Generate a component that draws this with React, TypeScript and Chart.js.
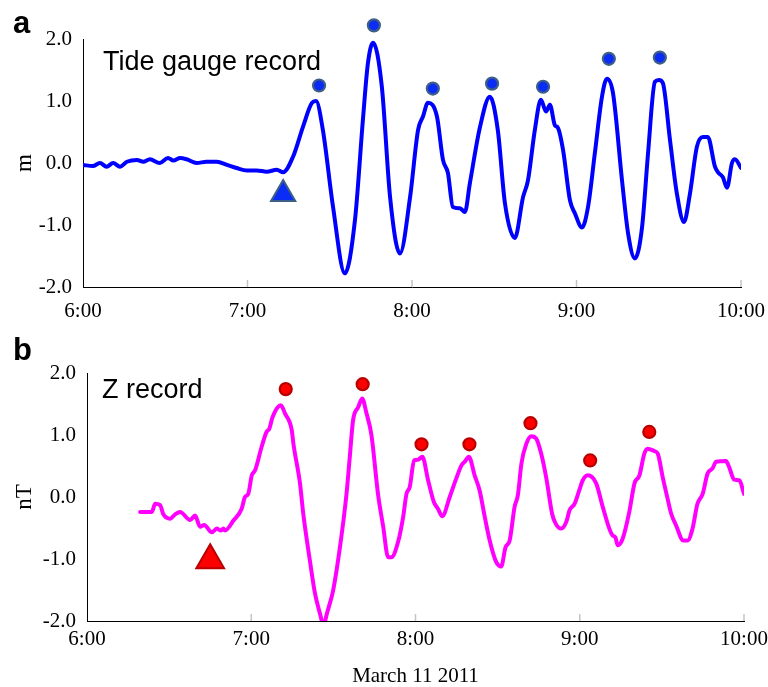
import React, { useEffect, useRef } from 'react';
import { Chart, registerables } from 'chart.js';

Chart.register(...registerables);

// ---- data (minutes after 6:00, March 11 2011) ----
const hourTickLabels = ['6:00', '7:00', '8:00', '9:00', '10:00'];
const valueTickLabels = ['-2.0', '-1.0', '0.0', '1.0', '2.0'];

const tgTime = [0, 3.6, 6.2, 8.6, 11, 13.5, 16, 19.7, 22, 24.4, 28, 31, 33, 35.4, 37.8, 41.5, 45, 48.8, 52.5, 56, 59.8, 63.4, 67, 70.7, 73, 76.6, 80.2, 83.5, 85, 87.5, 91.2, 95.5, 99.2, 102.1, 103.9, 105.8, 109, 112, 115.6, 119.3, 122.2, 124, 125.8, 129.1, 131.3, 133.1, 134.9, 137.5, 139.3, 141.1, 144.8, 148.4, 151.3, 153.9, 157.5, 160.5, 162.3, 164.8, 167, 168.9, 170.3, 172.1, 173.2, 175.1, 177.6, 179.4, 182, 184.2, 186.7, 189.3, 191.1, 193.3, 196.6, 198.8, 201.3, 203.9, 206.1, 208.6, 210.1, 211.5, 214.1, 216.6, 219.2, 221.4, 223.9, 226.1, 227.9, 230.5, 231.6, 233.4, 234.9, 236.7, 237.8, 240];
const tgLevel = [-0.03, -0.05, 0.0, -0.06, 0.0, -0.06, 0.02, 0.05, 0.02, 0.06, 0.0, 0.08, 0.04, 0.08, 0.06, 0.0, 0.02, 0.02, -0.03, -0.08, -0.12, -0.12, -0.14, -0.11, -0.15, 0.1, 0.58, 0.97, 1.0, 0.53, -0.71, -1.78, -0.92, 0.7, 1.6, 1.94, 1.23, -0.55, -1.46, -0.55, 0.53, 0.75, 0.97, 0.75, 0.05, -0.16, -0.71, -0.73, -0.79, -0.33, 0.58, 1.07, 0.53, -0.65, -1.21, -0.55, -0.28, 0.53, 1.02, 0.83, 0.94, 0.61, 0.57, 0.21, -0.6, -0.81, -1.04, -0.71, 0.16, 1.07, 1.36, 1.13, -0.28, -1.13, -1.54, -1.04, 0.16, 1.31, 1.34, 1.29, 0.37, -0.49, -0.95, -0.49, 0.26, 0.42, 0.42, -0.06, -0.15, -0.23, -0.4, 0.0, 0.06, -0.08];

const tgPeakTime = [86.1, 106.1, 127.6, 149.2, 167.8, 191.8, 210.4];
const tgPeakLevel = [1.25, 2.22, 1.2, 1.28, 1.23, 1.68, 1.7];
const tgArrivalTime = [73];
const tgArrivalLevel = [-0.5];

const zTime = [19.4, 23.7, 24.9, 26.7, 27.9, 30.4, 32.2, 34, 37.7, 39.5, 41.3, 42.8, 45.6, 47.4, 48.9, 49.8, 50.4, 53.5, 56.5, 57.7, 58.9, 60.2, 61.4, 63.8, 65.6, 66.6, 67.8, 70.8, 72.3, 74.8, 75.4, 77.8, 79, 81.4, 83.3, 85.7, 86.4, 87.2, 89.9, 92.4, 94.8, 96, 97.2, 99.1, 100.5, 102.1, 103.9, 106.3, 108.2, 110, 111.2, 113.6, 115.5, 116.7, 117.9, 119.5, 120.9, 122.5, 124.6, 126.7, 128.2, 129.8, 132.5, 134.9, 136.8, 138, 139.5, 141.6, 143.4, 145.3, 147.1, 149.5, 151.3, 152.9, 154.4, 156.2, 157.4, 158.7, 160.5, 162.3, 164.1, 165.9, 167.8, 169.9, 171.2, 173.2, 175.1, 176.3, 178.1, 179.9, 181.1, 182.9, 186, 188.4, 190.8, 192, 193, 193.9, 195.7, 198.1, 200, 201.8, 203.6, 204.8, 207.3, 208.5, 210.3, 212.1, 213.4, 215.2, 217.8, 219.4, 221.2, 223, 224.9, 226.7, 228.5, 229.8, 233.4, 234.6, 236.4, 238.3, 240];
const zField = [-0.24, -0.24, -0.11, -0.13, -0.28, -0.35, -0.28, -0.24, -0.37, -0.3, -0.48, -0.45, -0.57, -0.51, -0.54, -0.51, -0.54, -0.38, -0.19, 0.0, 0.05, 0.35, 0.43, 0.81, 1.05, 1.1, 1.29, 1.48, 1.35, 1.08, 0.86, 0.22, -0.27, -1.02, -1.56, -1.99, -2.15, -1.96, -1.51, -0.81, 0.05, 0.65, 1.24, 1.45, 1.59, 1.35, 1.0, 0.05, -0.48, -0.97, -0.97, -0.73, -0.32, 0.05, 0.16, 0.59, 0.6, 0.65, 0.27, -0.08, -0.19, -0.31, 0.0, 0.3, 0.51, 0.57, 0.65, 0.35, 0.11, -0.32, -0.7, -1.05, -1.12, -0.81, -0.7, -0.16, 0.03, 0.54, 0.86, 0.98, 0.94, 0.7, 0.3, -0.27, -0.43, -0.51, -0.4, -0.21, -0.11, 0.12, 0.27, 0.35, 0.22, -0.16, -0.51, -0.62, -0.65, -0.78, -0.67, -0.24, 0.22, 0.35, 0.7, 0.78, 0.74, 0.7, 0.32, -0.03, -0.27, -0.46, -0.7, -0.7, -0.51, -0.11, 0.05, 0.38, 0.46, 0.57, 0.58, 0.48, 0.28, 0.27, 0.05];

const zPeakTime = [72.6, 100.7, 122.2, 139.7, 162, 183.8, 205.4];
const zPeakField = [1.74, 1.82, 0.85, 0.85, 1.19, 0.59, 1.05];
const zArrivalTime = [45];
const zArrivalField = [-1.02];

const toXY = (ts: number[], vs: number[]) => ts.map((t, i) => ({ x: t, y: vs[i] }));

const SERIF = '"Liberation Serif", "Times New Roman", serif';
const SANS = '"Liberation Sans", Arial, Helvetica, sans-serif';

const decorPlugin = {
  id: 'decor',
  beforeDatasetsDraw(chart: any) {
    const ctx = chart.ctx;
    const xs = chart.scales.x;
    const area = chart.chartArea;
    ctx.save();
    ctx.strokeStyle = '#c4c4c4';
    ctx.lineWidth = 1.5;
    xs.ticks.forEach((t: any) => {
      const px = xs.getPixelForValue(t.value);
      if (px <= area.left + 2) return;
      ctx.beginPath();
      ctx.moveTo(px, area.bottom);
      ctx.lineTo(px, area.bottom - 7);
      ctx.stroke();
    });
    ctx.restore();
  },
  // let the marker datasets (unclipped) draw points that sit just above the axis top
  beforeDatasetDraw(chart: any, args: any) {
    if (args.index <= 1) {
      chart.$savedArea = chart.chartArea;
      const a = chart.chartArea;
      chart.chartArea = { ...a, top: a.top - 40, bottom: a.bottom + 40 };
    }
  },
  afterDatasetDraw(chart: any, args: any) {
    if (args.index <= 1 && chart.$savedArea) {
      chart.chartArea = chart.$savedArea;
      chart.$savedArea = null;
    }
  },
  afterDraw(chart: any, _args: any, opts: any) {
    const ctx = chart.ctx;
    ctx.save();
    ctx.fillStyle = '#000';
    ctx.textAlign = 'left';
    ctx.textBaseline = 'alphabetic';
    (opts.texts || []).forEach((tx: any) => {
      ctx.font = tx.font;
      ctx.fillText(tx.text, tx.x, tx.y);
    });
    ctx.restore();
  },
};

function buildConfig(p: any) {
  return {
    type: 'line',
    data: {
      datasets: [
        {
          data: toXY(p.peakT, p.peakV),
          showLine: false,
          pointStyle: 'circle',
          pointRadius: 6,
          pointBorderWidth: 2.2,
          pointBackgroundColor: p.markFill,
          pointBorderColor: p.markEdge,
          clip: false,
        },
        {
          data: toXY(p.arrT, p.arrV),
          showLine: false,
          pointStyle: 'triangle',
          pointRadius: p.triR,
          pointBorderWidth: 2,
          pointBackgroundColor: p.markFill,
          pointBorderColor: p.markEdge,
          clip: false,
        },
        {
          data: toXY(p.lineT, p.lineV),
          borderColor: p.lineColor,
          borderWidth: 4,
          pointRadius: 0,
          cubicInterpolationMode: 'monotone',
          borderJoinStyle: 'round',
          borderCapStyle: 'round',
          fill: false,
        },
      ],
    },
    options: {
      responsive: false,
      animation: false,
      events: [],
      layout: { padding: { left: 0, right: p.padRight, top: p.padTop, bottom: 0 } },
      plugins: {
        legend: { display: false },
        tooltip: { enabled: false },
        decor: { texts: p.texts },
      },
      scales: {
        x: {
          type: 'linear',
          min: 0,
          max: 240,
          grid: { display: false, drawTicks: false },
          border: { display: true, color: '#000', width: 1 },
          ticks: {
            stepSize: 60,
            autoSkip: false,
            maxRotation: 0,
            padding: p.xTickPad,
            color: '#000',
            font: { family: SERIF, size: 21 },
            callback: (v: number) => hourTickLabels[Math.round(v / 60)],
          },
          title: p.xTitle
            ? {
                display: true,
                text: p.xTitle,
                color: '#000',
                font: { family: SERIF, size: 21, lineHeight: 1.0 },
                padding: 0,
              }
            : { display: false },
          afterFit: (s: any) => {
            s.height = p.xHeight;
            s.paddingLeft = 0;
            s.paddingRight = 0;
          },
        },
        y: {
          min: -2,
          max: 2,
          grid: { display: false, drawTicks: false },
          border: { display: true, color: '#000', width: 1 },
          ticks: {
            stepSize: 1,
            padding: 11,
            color: '#000',
            font: { family: SERIF, size: 21 },
            callback: (v: number) => valueTickLabels[Math.round(v) + 2],
          },
          title: {
            display: true,
            text: p.yTitle,
            color: '#000',
            font: { family: SERIF, size: 23 },
            padding: { top: 11, bottom: 0 },
          },
          afterFit: (s: any) => {
            s.width = p.yWidth;
            s.paddingTop = 0;
            s.paddingBottom = 0;
          },
        },
      },
    },
    plugins: [decorPlugin],
  };
}

function Panel(props: { cfg: any; width: number; height: number; top: number }) {
  const ref = useRef<HTMLCanvasElement | null>(null);
  useEffect(() => {
    if (!ref.current) return;
    const chart = new Chart(ref.current, buildConfig(props.cfg) as any);
    return () => chart.destroy();
  }, []);
  return (
    <canvas
      ref={ref}
      width={props.width}
      height={props.height}
      style={{ position: 'absolute', left: 0, top: props.top, display: 'block' }}
    />
  );
}

const panelA = {
  lineT: tgTime,
  lineV: tgLevel,
  peakT: tgPeakTime,
  peakV: tgPeakLevel,
  arrT: tgArrivalTime,
  arrV: tgArrivalLevel,
  lineColor: '#0000ff',
  markFill: '#0a2cf5',
  markEdge: '#3e5f86',
  triR: 14,
  padTop: 39,
  padRight: 27,
  yWidth: 83,
  xHeight: 43,
  xTickPad: 12,
  yTitle: 'm',
  xTitle: '',
  texts: [
    { text: 'a', x: 13, y: 33, font: `bold 31px ${SANS}` },
    { text: 'Tide gauge record', x: 103, y: 70, font: `27px ${SANS}` },
  ],
};

const panelB = {
  lineT: zTime,
  lineV: zField,
  peakT: zPeakTime,
  peakV: zPeakField,
  arrT: zArrivalTime,
  arrV: zArrivalField,
  lineColor: '#ff00ff',
  markFill: '#ff0000',
  markEdge: '#b80000',
  triR: 16,
  padTop: 43,
  padRight: 24,
  yWidth: 87,
  xHeight: 66,
  xTickPad: 6,
  yTitle: 'nT',
  xTitle: 'March 11 2011',
  texts: [
    { text: 'b', x: 13, y: 30, font: `bold 31px ${SANS}` },
    { text: 'Z record', x: 102, y: 68, font: `27px ${SANS}` },
  ],
};

export default function App() {
  return (
    <div style={{ position: 'absolute', left: 0, top: 0, width: 768, height: 687, background: '#fff' }}>
      <Panel cfg={panelA} width={768} height={330} top={0} />
      <Panel cfg={panelB} width={768} height={357} top={330} />
    </div>
  );
}
